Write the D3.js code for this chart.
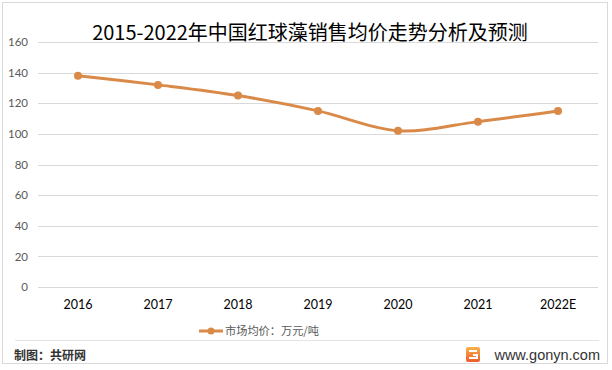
<!DOCTYPE html>
<html>
<head>
<meta charset="utf-8">
<script src="https://cdn.jsdelivr.net/npm/d3@7"></script>
<style>
  html, body { margin: 0; padding: 0; background: #fff; }
  svg { display: block; }
</style>
</head>
<body>
<svg id="chart" width="612" height="370"></svg>
<script>
const titleText = "2015-2022年中国红球藻销售均价走势分析及预测";
const categories = ["2016", "2017", "2018", "2019", "2020", "2021", "2022E"];
const seriesName = "市场均价：万元/吨";
const values = [138, 132, 125, 115, 102, 108, 115];
const yTicks = [0, 20, 40, 60, 80, 100, 120, 140, 160];
const footerLeft = "制图：共研网";
const footerRight = "www.gonyn.com";

const color = "#DA8A48";
const svg = d3.select("#chart");
const W = 612, H = 370;
const margin = { left: 38, right: 14, top: 42, bottom: 83 };

// outer border
svg.append("rect").attr("x", 2.5).attr("y", 2.5).attr("width", 605).attr("height", 361)
  .attr("fill", "#fff").attr("stroke", "#d9d9d9").attr("stroke-width", 1);

const x = d3.scaleBand().domain(categories).range([margin.left, W - margin.right]).padding(0);
const y = d3.scaleLinear().domain([0, 160]).range([287, 42]);

// gridlines
svg.append("g").selectAll("line").data(yTicks).join("line")
  .attr("x1", margin.left).attr("x2", W - margin.right)
  .attr("y1", d => Math.round(y(d)) + 0.5).attr("y2", d => Math.round(y(d)) + 0.5)
  .attr("stroke", "#d9d9d9").attr("stroke-width", 1);

// y axis labels
const yAxis = d3.axisLeft(y).tickValues(yTicks).tickSize(0).tickPadding(0);
const yg = svg.append("g").attr("transform", `translate(28,0)`).call(yAxis);
yg.select(".domain").remove();
yg.selectAll("text").attr("font-family", "Lato").attr("font-size", 11.5).attr("fill", "#595959")
  .attr("text-anchor", "end");

// x axis labels
const xAxis = d3.axisBottom(x).tickSize(0).tickPadding(0);
const xg = svg.append("g").attr("transform", `translate(0,300)`).call(xAxis);
xg.select(".domain").remove();
xg.selectAll("text").attr("font-family", "Lato").attr("font-size", 12.5).attr("fill", "#000");

// title
svg.append("text").attr("x", 310).attr("y", 40).attr("text-anchor", "middle")
  .attr("font-family", "Noto Sans CJK SC").attr("font-size", 20).attr("fill", "#000")
  .text(titleText);

// line
const cx = d => x(d) + x.bandwidth() / 2;
const pts = categories.map((c, i) => [cx(c), y(values[i])]);
svg.append("path").datum(pts)
  .attr("d", d3.line().curve(d3.curveCatmullRom.alpha(0.5)))
  .attr("fill", "none").attr("stroke", color).attr("stroke-width", 3).attr("stroke-linecap", "round");
svg.append("g").selectAll("circle").data(pts).join("circle")
  .attr("cx", d => d[0]).attr("cy", d => d[1]).attr("r", 4).attr("fill", color);

// legend
const lg = svg.append("g").attr("transform", "translate(199,331)");
lg.append("line").attr("x1", 0).attr("x2", 24).attr("y1", 0).attr("y2", 0)
  .attr("stroke", color).attr("stroke-width", 3);
lg.append("circle").attr("cx", 12).attr("cy", 0).attr("r", 3.5).attr("fill", color);
lg.append("text").attr("x", 26).attr("y", 4).attr("font-family", "Noto Sans CJK SC")
  .attr("font-size", 11.2).attr("fill", "#595959").text(seriesName);

// separator
svg.append("line").attr("x1", 15).attr("x2", 599).attr("y1", 340.5).attr("y2", 340.5)
  .attr("stroke", "#e3e3e3").attr("stroke-width", 1);

// footer
svg.append("text").attr("x", 14).attr("y", 360).attr("font-family", "Noto Sans CJK SC")
  .attr("font-weight", "bold").attr("font-size", 12).attr("fill", "#333").text(footerLeft);

const grad = svg.append("defs").append("linearGradient").attr("id", "lg1")
  .attr("x1", 0).attr("y1", 0).attr("x2", 0).attr("y2", 1);
grad.append("stop").attr("offset", 0).attr("stop-color", "#F7B24A");
grad.append("stop").attr("offset", 1).attr("stop-color", "#EE5A2E");
const logo = svg.append("g").attr("transform", "translate(466,347)");
logo.append("rect").attr("width", 14).attr("height", 15).attr("rx", 2).attr("fill", "url(#lg1)");
logo.append("path").attr("d", "M3,4 H11 M7,8 H11 V11 H3")
  .attr("stroke", "#fff").attr("stroke-width", 2).attr("fill", "none");

svg.append("text").attr("x", 600).attr("y", 360).attr("text-anchor", "end")
  .attr("font-family", "Liberation Sans").attr("font-size", 14.5).attr("fill", "#333")
  .text(footerRight);
</script>
</body>
</html>
